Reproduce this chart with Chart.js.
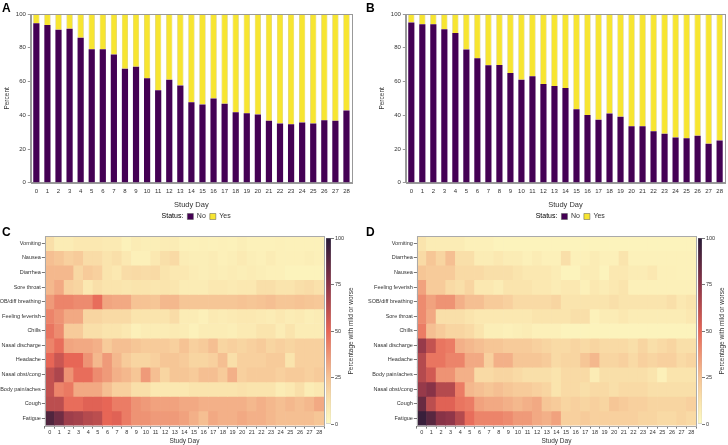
<!DOCTYPE html>
<html>
<head>
<meta charset="utf-8">
<script src="https://cdn.jsdelivr.net/npm/chart.js@4.4.1/dist/chart.umd.min.js"></script>
<style>
    body { margin: 0; width: 728px; height: 445px; overflow: hidden; position: relative; background: #fff; font-family: 'Liberation Sans', Arial, sans-serif; }
    .panel { position: absolute; }
    .tag { position: absolute; font-weight: bold; font-size: 12px; color: #000; line-height: 12px; z-index: 2; }
</style>
</head>
<body>
<div class="tag" style="left:2px;top:2px">A</div>
<div class="tag" style="left:366px;top:2px">B</div>
<div class="tag" style="left:2px;top:226px">C</div>
<div class="tag" style="left:366px;top:226px">D</div>

<div class="panel" style="left:0;top:0;width:364px;height:222px"><canvas id="chart-a"></canvas></div>
<div class="panel" style="left:364px;top:0;width:364px;height:222px"><canvas id="chart-b"></canvas></div>
<div class="panel" style="left:-5px;top:222px;width:331px;height:223px"><canvas id="chart-c"></canvas></div>
<div class="panel" style="left:322px;top:222px;width:42px;height:223px"><canvas id="bar-c"></canvas></div>
<div class="panel" style="left:364px;top:222px;width:336px;height:223px"><canvas id="chart-d"></canvas></div>
<div class="panel" style="left:694px;top:222px;width:34px;height:223px"><canvas id="bar-d"></canvas></div>

<script>
// Categories
const days = ['0','1','2','3','4','5','6','7','8','9','10','11','12','13','14','15','16','17','18','19','20','21','22','23','24','25','26','27','28'];

// Panel A - status percent by day
const noA  = [94.5, 93.5, 90.7, 91.3, 86, 79.1, 79.1, 76, 67.5, 68.8, 62, 54.8, 61.1, 57.6, 47.7, 46.4, 49.9, 46.9, 41.8, 41.2, 40.4, 36.7, 35.1, 34.7, 35.7, 35.1, 37.1, 36.7, 42.8];
const yesA = [5.5, 6.5, 9.3, 8.7, 14, 20.9, 20.9, 24, 32.5, 31.2, 38, 45.2, 38.9, 42.4, 52.3, 53.6, 50.1, 53.1, 58.2, 58.8, 59.6, 63.3, 64.9, 65.3, 64.3, 64.9, 62.9, 63.3, 57.2];

// Panel B - status percent by day
const noB  = [95, 93.9, 93.9, 90.9, 88.8, 78.9, 73.8, 69.6, 69.8, 65, 61.1, 63.1, 58.6, 57.4, 56.2, 43.6, 40.2, 37.3, 41, 39.1, 33.5, 33.5, 30.6, 29, 26.8, 26.4, 27.8, 23.1, 25];
const yesB = [5, 6.1, 6.1, 9.1, 11.2, 21.1, 26.2, 30.4, 30.2, 35, 38.9, 36.9, 41.4, 42.6, 43.8, 56.4, 59.8, 62.7, 59, 60.9, 66.5, 66.5, 69.4, 71, 73.2, 73.6, 72.2, 76.9, 75];

const percentTicks = [0, 20, 40, 60, 80, 100];
const colorbarTicks = [0, 25, 50, 75, 100];

// Panel C - % with mild or worse (rows top to bottom)
const symptomsC = ['Vomiting', 'Nausea', 'Diarrhea', 'Sore throat', 'SOB/diff breathing', 'Feeling feverish', 'Chills', 'Nasal discharge', 'Headache', 'Nasal obst/cong', 'Body pain/aches', 'Cough', 'Fatigue'];
const cVomiting  = [14, 8, 8, 10, 10, 10, 9, 9, 5, 8, 7, 7, 8, 8, 5, 5, 6, 5, 6, 5, 7, 5, 5, 5, 6, 5, 5, 5, 5];
const cNausea    = [26, 24, 20, 22, 15, 15, 12, 14, 10, 6, 6, 10, 14, 16, 8, 7, 7, 8, 6, 7, 9, 7, 6, 8, 6, 6, 6, 7, 6];
const cDiarrhea  = [28, 28, 28, 17, 22, 20, 12, 10, 15, 16, 15, 16, 12, 10, 10, 8, 7, 8, 7, 8, 7, 8, 7, 6, 6, 4, 4, 4, 4];
const cSore      = [28, 32, 20, 18, 10, 14, 12, 12, 11, 12, 12, 11, 12, 11, 8, 8, 8, 10, 10, 9, 10, 10, 14, 14, 12, 12, 14, 15, 13];
const cSob       = [36, 42, 42, 40, 40, 48, 33, 32, 32, 25, 25, 24, 28, 28, 24, 24, 24, 24, 24, 24, 25, 24, 25, 26, 24, 24, 25, 24, 23];
const cFeverish  = [42, 38, 32, 32, 18, 18, 16, 16, 16, 12, 12, 12, 12, 15, 8, 8, 6, 9, 8, 9, 10, 10, 9, 8, 10, 8, 9, 7, 8];
const cChills    = [46, 40, 22, 22, 14, 14, 12, 12, 10, 6, 8, 8, 8, 9, 8, 5, 8, 8, 8, 7, 9, 9, 12, 12, 8, 12, 8, 8, 8];
const cDischarge = [42, 48, 33, 32, 32, 30, 22, 26, 26, 24, 22, 22, 22, 20, 25, 20, 22, 26, 18, 20, 18, 20, 22, 18, 20, 18, 20, 20, 20];
const cHeadache  = [50, 58, 50, 50, 38, 28, 36, 28, 22, 18, 18, 20, 24, 24, 22, 18, 18, 20, 26, 14, 20, 20, 20, 22, 22, 12, 20, 20, 20];
const cObst      = [60, 66, 38, 48, 48, 40, 36, 30, 28, 24, 36, 26, 18, 24, 24, 22, 26, 26, 22, 30, 20, 22, 22, 22, 20, 22, 22, 20, 22];
const cAches     = [60, 42, 45, 32, 32, 32, 26, 20, 20, 14, 14, 10, 10, 10, 10, 12, 12, 12, 12, 12, 13, 12, 12, 12, 8, 10, 14, 8, 10];
const cCough     = [62, 62, 48, 48, 52, 52, 50, 44, 44, 38, 36, 34, 34, 34, 32, 32, 30, 30, 30, 30, 30, 28, 30, 28, 26, 28, 26, 28, 32];
const cFatigue   = [90, 82, 70, 68, 64, 62, 50, 52, 44, 38, 38, 36, 36, 36, 34, 30, 26, 32, 30, 30, 32, 30, 30, 28, 26, 26, 26, 26, 24];

// Panel D - % with mild or worse (rows top to bottom)
const symptomsD = ['Vomiting', 'Diarrhea', 'Nausea', 'Feeling feverish', 'SOB/diff breathing', 'Sore throat', 'Chills', 'Nasal discharge', 'Headache', 'Body pain/aches', 'Nasal obst/cong', 'Cough', 'Fatigue'];
const dVomiting  = [12, 8, 8, 8, 8, 6, 6, 6, 4, 4, 4, 4, 4, 4, 4, 4, 4, 4, 4, 4, 4, 4, 4, 4, 4, 4, 4, 4, 4];
const dDiarrhea  = [16, 24, 18, 26, 14, 14, 8, 8, 10, 8, 8, 6, 8, 6, 6, 14, 6, 6, 8, 6, 6, 12, 5, 5, 5, 5, 5, 5, 5];
const dNausea    = [24, 22, 22, 22, 16, 16, 16, 14, 14, 14, 12, 10, 10, 10, 8, 4, 4, 8, 8, 4, 10, 10, 8, 8, 10, 6, 6, 5, 5];
const dFeverish  = [34, 22, 22, 16, 14, 18, 10, 10, 8, 12, 12, 12, 10, 10, 8, 10, 10, 6, 10, 8, 10, 12, 6, 6, 6, 6, 6, 6, 6];
const dSob       = [40, 34, 38, 38, 30, 26, 26, 22, 22, 20, 16, 16, 16, 16, 18, 12, 12, 12, 12, 12, 14, 12, 12, 12, 12, 12, 14, 10, 12];
const dSore      = [40, 32, 14, 14, 14, 12, 10, 10, 10, 10, 10, 10, 12, 12, 12, 12, 14, 14, 5, 8, 8, 10, 8, 8, 8, 8, 8, 8, 10];
const dChills    = [44, 26, 22, 18, 18, 16, 12, 7, 7, 6, 7, 8, 6, 6, 6, 4, 4, 4, 4, 4, 4, 4, 4, 4, 4, 4, 4, 4, 4];
const dDischarge = [72, 60, 46, 44, 30, 28, 26, 24, 24, 22, 22, 22, 20, 18, 16, 16, 18, 16, 18, 16, 16, 16, 14, 18, 14, 16, 18, 14, 14];
const dHeadache  = [64, 46, 46, 42, 42, 32, 32, 20, 30, 30, 24, 24, 24, 22, 16, 18, 18, 24, 28, 18, 18, 20, 16, 20, 18, 20, 20, 16, 18];
const dAches     = [64, 56, 38, 38, 30, 30, 16, 16, 18, 18, 16, 14, 14, 14, 12, 16, 16, 16, 8, 14, 14, 14, 14, 14, 12, 6, 12, 12, 12];
const dObst      = [72, 76, 64, 64, 44, 28, 26, 24, 26, 24, 22, 22, 20, 18, 12, 16, 16, 14, 16, 16, 14, 16, 16, 16, 14, 14, 14, 14, 14];
const dCough     = [84, 62, 52, 52, 46, 44, 34, 32, 32, 30, 28, 30, 32, 24, 22, 18, 20, 18, 20, 18, 24, 22, 20, 20, 18, 18, 18, 18, 20];
const dFatigue   = [96, 88, 76, 74, 64, 48, 42, 42, 42, 40, 36, 36, 32, 30, 34, 20, 20, 22, 20, 20, 20, 20, 20, 18, 18, 16, 16, 18, 16];

const rowsC = [cVomiting, cNausea, cDiarrhea, cSore, cSob, cFeverish, cChills, cDischarge, cHeadache, cObst, cAches, cCough, cFatigue];
const rowsD = [dVomiting, dDiarrhea, dNausea, dFeverish, dSob, dSore, dChills, dDischarge, dHeadache, dAches, dObst, dCough, dFatigue];

// Colours
const purple = '#440154';
const yellow = '#f7e531';
const FONT = "'Liberation Sans', Arial, sans-serif";
const heatStops = [
    { at: 0,   rgb: [253, 251, 196] },
    { at: 12,  rgb: [250, 228, 173] },
    { at: 25,  rgb: [246, 195, 148] },
    { at: 50,  rgb: [231, 102, 86] },
    { at: 75,  rgb: [140, 52, 72] },
    { at: 100, rgb: [40, 27, 56] }
];

Chart.defaults.font.family = FONT;
Chart.defaults.color = '#333';

// Map a percentage to the heatmap colour ramp
function heatColor(v) {
    for (let i = 1; i < heatStops.length; i++) {
        const a = heatStops[i - 1], b = heatStops[i];
        if (v <= b.at) {
            const t = (v - a.at) / (b.at - a.at);
            const c = a.rgb.map((x, k) => Math.round(x + (b.rgb[k] - x) * t));
            return `rgb(${c[0]},${c[1]},${c[2]})`;
        }
    }
    const last = heatStops[heatStops.length - 1].rgb;
    return `rgb(${last[0]},${last[1]},${last[2]})`;
}

// Draws a thin box around the plot area
const framePlugin = {
    id: 'frame',
    afterDatasetsDraw(chart, args, opts) {
        const { ctx, chartArea: a } = chart;
        ctx.save();
        ctx.strokeStyle = opts.color || '#999';
        ctx.lineWidth = 1;
        ctx.strokeRect(Math.round(a.left) + 0.5, Math.round(a.top) + 0.5, Math.round(a.right - a.left), Math.round(a.bottom - a.top));
        ctx.restore();
    }
};

// Colorbar title reads bottom to top on the right side
const sideTitlePlugin = {
    id: 'sideTitle',
    afterDraw(chart, args, opts) {
        if (!opts.text) return;
        const { ctx, chartArea: a } = chart;
        ctx.save();
        ctx.translate(opts.x, (a.top + a.bottom) / 2);
        ctx.rotate(-Math.PI / 2);
        ctx.font = `6.5px ${FONT}`;
        ctx.fillStyle = '#333';
        ctx.textAlign = 'center';
        ctx.textBaseline = 'middle';
        ctx.fillText(opts.text, 0, 0);
        ctx.restore();
    }
};

// Stacked status bar chart (panels A and B)
function initStatusChart(id, noData, yesData, padLeft, padRight) {
    const ctx = document.getElementById(id).getContext('2d');
    return new Chart(ctx, {
        type: 'bar',
        data: {
            labels: days,
            datasets: [
                { label: 'No', data: noData, backgroundColor: purple, borderWidth: 0 },
                { label: 'Yes', data: yesData, backgroundColor: yellow, borderColor: '#c9bb45', borderWidth: 0.6 }
            ]
        },
        options: {
            responsive: true,
            maintainAspectRatio: false,
            animation: false,
            layout: { padding: { left: padLeft, right: padRight, top: 14, bottom: -8 } },
            datasets: { bar: { barPercentage: 0.56, categoryPercentage: 1 } },
            plugins: {
                tooltip: { enabled: false },
                frame: { color: '#999' },
                legend: {
                    position: 'bottom',
                    fullSize: false,
                    labels: {
                        boxWidth: 6,
                        boxHeight: 6,
                        padding: 4,
                        font: { size: 7 },
                        color: '#333',
                        generateLabels: (chart) => [
                            { text: 'Status:', fillStyle: 'rgba(0,0,0,0)', strokeStyle: 'rgba(0,0,0,0)', lineWidth: 0, hidden: false },
                            ...Chart.defaults.plugins.legend.labels.generateLabels(chart).map(item => ({ ...item, strokeStyle: '#555', lineWidth: 0.5 }))
                        ]
                    }
                }
            },
            scales: {
                x: {
                    stacked: true,
                    grid: { display: false, drawTicks: false },
                    border: { color: '#999' },
                    ticks: { font: { size: 6 }, padding: 5, autoSkip: false, maxRotation: 0 },
                    title: { display: true, text: 'Study Day', font: { size: 7.5 }, padding: { top: 0, bottom: 0 } }
                },
                y: {
                    stacked: true,
                    min: 0,
                    max: 100,
                    afterBuildTicks: (axis) => { axis.ticks = percentTicks.map(v => ({ value: v })); },
                    grid: { drawOnChartArea: false, tickLength: 3, color: '#999' },
                    border: { color: '#999' },
                    ticks: { font: { size: 6 }, padding: 2 },
                    title: { display: true, text: 'Percent', font: { size: 6.5 }, padding: { top: 0, bottom: 3 } }
                }
            }
        },
        plugins: [framePlugin]
    });
}

// Heatmap of symptoms by day (panels C and D)
function initHeatmap(id, names, rows, padLeft, padRight) {
    const n = rows.length;
    const datasets = rows.map((vals, i) => {
        const r = n - 1 - i; // y index 0 is the bottom row
        return {
            label: names[i],
            data: vals.map(() => [r - 0.5, r + 0.5]),
            backgroundColor: vals.map(heatColor),
            borderWidth: 0,
            grouped: false,
            barPercentage: 1,
            categoryPercentage: 1
        };
    });
    const ctx = document.getElementById(id).getContext('2d');
    return new Chart(ctx, {
        type: 'bar',
        data: { labels: days, datasets },
        options: {
            responsive: true,
            maintainAspectRatio: false,
            animation: false,
            layout: { padding: { left: padLeft, right: padRight, top: 14, bottom: 0 } },
            plugins: {
                legend: { display: false },
                tooltip: { enabled: false },
                frame: { color: '#aaa' }
            },
            scales: {
                x: {
                    grid: { drawOnChartArea: false, tickLength: 3, color: '#777' },
                    border: { display: false },
                    ticks: { font: { size: 5.5 }, padding: 1, autoSkip: false, maxRotation: 0 },
                    title: { display: true, text: 'Study Day', font: { size: 6.5 }, padding: { top: 0, bottom: 0 } }
                },
                y: {
                    min: -0.5,
                    max: n - 0.5,
                    afterBuildTicks: (axis) => { axis.ticks = names.map((_, i) => ({ value: i })); },
                    grid: { drawOnChartArea: false, tickLength: 3, color: '#777' },
                    border: { display: false },
                    ticks: { font: { size: 5.5 }, padding: 1, callback: (v) => names[n - 1 - v] }
                }
            }
        },
        plugins: [framePlugin]
    });
}

// Colour legend bar beside each heatmap
function initColorbar(id, padLeft, padRight, titleX) {
    const ctx = document.getElementById(id).getContext('2d');
    return new Chart(ctx, {
        type: 'bar',
        data: {
            labels: [''],
            datasets: [{
                data: [[0, 100]],
                backgroundColor: (c) => {
                    const area = c.chart.chartArea;
                    if (!area) return heatColor(50);
                    const g = c.chart.ctx.createLinearGradient(0, area.bottom, 0, area.top);
                    heatStops.forEach(s => g.addColorStop(s.at / 100, heatColor(s.at)));
                    return g;
                },
                borderColor: '#aaa',
                borderWidth: 0.5,
                borderSkipped: false,
                barPercentage: 1,
                categoryPercentage: 1
            }]
        },
        options: {
            responsive: true,
            maintainAspectRatio: false,
            animation: false,
            layout: { padding: { left: padLeft, right: padRight, top: 16, bottom: 21 } },
            plugins: {
                legend: { display: false },
                tooltip: { enabled: false },
                sideTitle: { text: 'Percentage with mild or worse', x: titleX }
            },
            scales: {
                x: { display: false },
                y: {
                    position: 'right',
                    min: 0,
                    max: 100,
                    afterBuildTicks: (axis) => { axis.ticks = colorbarTicks.map(v => ({ value: v })); },
                    afterFit: (axis) => { axis.width = 14; }, // keep room for the "100" label
                    grid: { drawOnChartArea: false, tickLength: 3, color: '#777' },
                    border: { display: false },
                    ticks: { font: { size: 5.5 }, padding: 1 }
                }
            }
        },
        plugins: [sideTitlePlugin]
    });
}

function initFigure() {
    initStatusChart('chart-a', noA, yesA, 3, 12);
    initStatusChart('chart-b', noB, yesB, 14, 2);
    initHeatmap('chart-c', symptomsC, rowsC, 0, 2);
    initColorbar('bar-c', 4, 19, 29);
    initHeatmap('chart-d', symptomsD, rowsD, 3, 4);
    initColorbar('bar-d', 4, 12, 28);
}

document.addEventListener('DOMContentLoaded', initFigure);
</script>
</body>
</html>
